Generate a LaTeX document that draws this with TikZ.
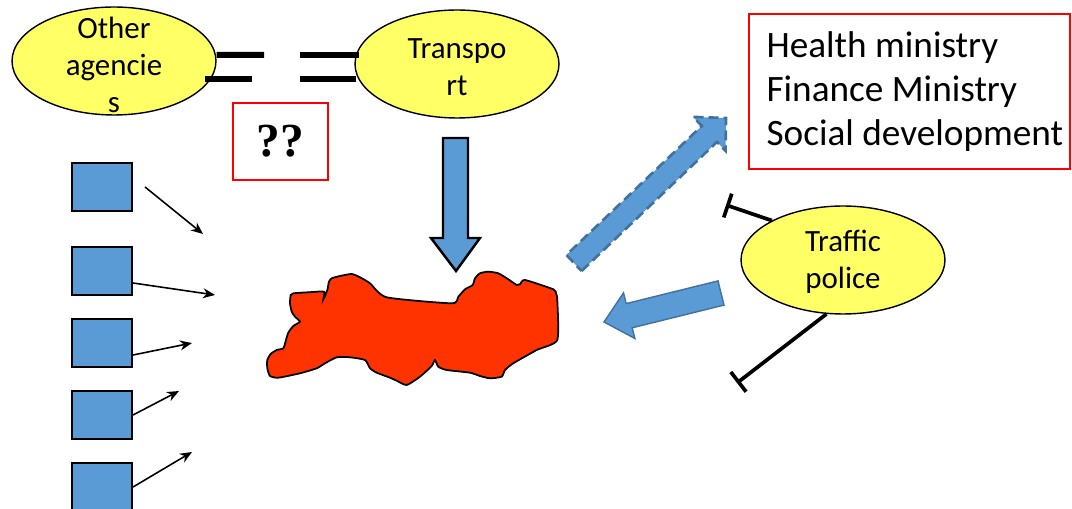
\documentclass[tikz,border=0pt]{standalone}
\usepackage{fontspec}
\setmainfont{Carlito}
\newfontfamily\qmarkfont{Liberation Serif}
\definecolor{agency_yellow}{RGB}{255, 255, 102}
\definecolor{map_blue}{RGB}{91, 155, 213}
\definecolor{map_edge}{RGB}{65, 113, 156}
\definecolor{map_red}{RGB}{255, 51, 0}
\usetikzlibrary{arrows.meta, positioning, shapes.geometric, calc}

\begin{document}
\begin{tikzpicture}[x=0.02cm, y=-0.02cm,
            agency/.style={draw, ellipse, fill=agency_yellow, line width=0.8pt,
                           minimum width=4.08cm, minimum height=2.16cm, inner sep=0pt},
            lbl/.style={align=center, inner sep=0pt, font=\fontsize{17.6}{21}\selectfont},
            redbox/.style={draw=red, line width=0.9pt, inner sep=0pt},
            sqbox/.style={draw, fill=map_blue, line width=1.2pt,
                          minimum width=1.2cm, minimum height=0.96cm, inner sep=0pt},
            arr/.style={-{Stealth[length=0.24cm, width=0.2cm]}, line width=0.9pt},
            link/.style={line width=0.12cm},
            tbar/.style={-{Bar[width=0.5cm]}, line width=2.1pt},
            bigarr/.style={fill=map_blue, draw=map_edge, line width=0.8pt},
            blob/.style={fill=map_red, draw, line width=1pt}]
            \useasboundingbox (0,0) rectangle (1072,509);
            % agencies
            \node[agency] (oth) at (114,61) {};
            \node[lbl] (othtxt) at ([yshift=-0.08cm]oth.center) {Other\\agencie\\s};
            \node[agency] (tra) at (457,64) {};
            \node[lbl] (tratxt) at ([yshift=-0.06cm]tra.center) {Transpo\\rt};
            \node[agency] (tp) at (843,260) {};
            \node[lbl] (tptxt) at ([yshift=-0.04cm]tp.center) {Traffic\\police};
            \node[redbox, minimum width=1.9cm, minimum height=1.54cm,
              font=\qmarkfont\bfseries\fontsize{27}{30}\selectfont] (qq)
              at (280.5,141.5) {??};
            \node[redbox, minimum width=6.42cm, minimum height=3.1cm] (min)
              at (909.5,91.5) {};
            \node[align=left, inner sep=0pt, anchor=west,
              font=\fontsize{21.2}{25}\selectfont] (mintxt)
              at ([xshift=0.36cm]min.west) {Health ministry\\Finance Ministry\\Social development};
            % broken link
            \coordinate (g1) at (264,55);
            \coordinate (g2) at (252,79);
            \coordinate (g3) at (300,55);
            \coordinate (g4) at (300,79);
            \draw[link] ([yshift=0.12cm]oth.east) -- (g1);
            \draw[link] ([shift={(-12,18)}]oth.east) -- (g2);
            \draw[link] ([shift={(5,-9)}]tra.west) -- (g3);
            \draw[link] ([shift={(2,15)}]tra.west) -- (g4);
            % small units
            \foreach \i/\y in {1/187, 2/271, 3/343, 4/415, 5/487}
              \node[sqbox] (sq\i) at (102,\y) {};
            \coordinate (p1) at (203,234);
            \coordinate (p2) at (215,295);
            \coordinate (p3) at (192,343);
            \coordinate (p4) at (179,391);
            \coordinate (p5) at (192,452);
            \draw[arr] ([xshift=0.24cm]sq1.east) -- (p1);
            \draw[arr] ([yshift=-0.24cm]sq2.east) -- (p2);
            \draw[arr] ([yshift=-0.24cm]sq3.east) -- (p3);
            \draw[arr] (sq4.east) -- (p4);
            \draw[arr] (sq5.east) -- (p5);
            % traffic police bars
            \coordinate (b1) at (726,205);
            \coordinate (b2) at (737,383);
            \draw[tbar] (tp.151) -- (b1);
            \draw[tbar] (tp.253) -- (b2);
            % the region
            \draw[blob] plot[smooth cycle, tension=0.35] coordinates {
              (290.7,295) (293.3,293.3) (308.3,292.3) (324,291.7) (323.3,299.3)
              (327.3,290) (329,281.7) (331.7,278.3) (340,276) (351.7,274)
              (360,277.3) (370,283.3) (386.7,297.3) (451.7,303.3) (458.3,296.7)
              (465,289.3) (472.7,285) (475,278.3) (480,273.3) (488.3,271.7)
              (498.3,273.3) (508.3,279.3) (516.7,285) (520,284.3) (525,280)
              (553.3,289.3) (556,293.3) (557.3,300) (557.3,340) (536.7,350)
              (513.3,363.3) (505,370) (501.7,376.7) (490,378.3) (480,376)
              (470,372.7) (446.7,370) (438.3,366.7) (435,360) (431.7,366)
              (420,376.7) (406.7,385) (396.7,380.7) (390,377.7) (376.7,372.7)
              (370,368.3) (365,360) (350,357.3) (336.7,357.3) (325,363.3)
              (316.7,368.3) (300,373.3) (278.3,377.7) (270,376) (267.3,368.3)
              (267.3,360) (270.7,354) (276.7,350) (283.3,348.3) (286,340)
              (288.3,332.7) (293.3,326) (300,321.7) (295,316.7) (291.7,311.7)
              (290,303.3)};
            % big arrows
            \draw[fill=map_blue, line width=1.4pt] (443,138) -- (468,138) -- (468,238)
              -- (480,238) -- (456,271) -- (431,238) -- (443,238) -- cycle;
            \draw[bigarr] (724.0,305.1) -- (632.2,327.8) -- (634.9,338.5) -- (604,322)
              -- (623.5,292.9) -- (626.2,303.6) -- (718.0,280.9) -- cycle;
            \draw[bigarr, line width=1.5pt, dash pattern=on 0.2cm off 0.1cm]
              (581.6,271.0) -- (717.0,141.9) -- (725.6,150.9) -- (726,118)
              -- (693.2,116.9) -- (701.8,125.9) -- (566.4,255.0) -- cycle;
          \end{tikzpicture}
\end{document}
